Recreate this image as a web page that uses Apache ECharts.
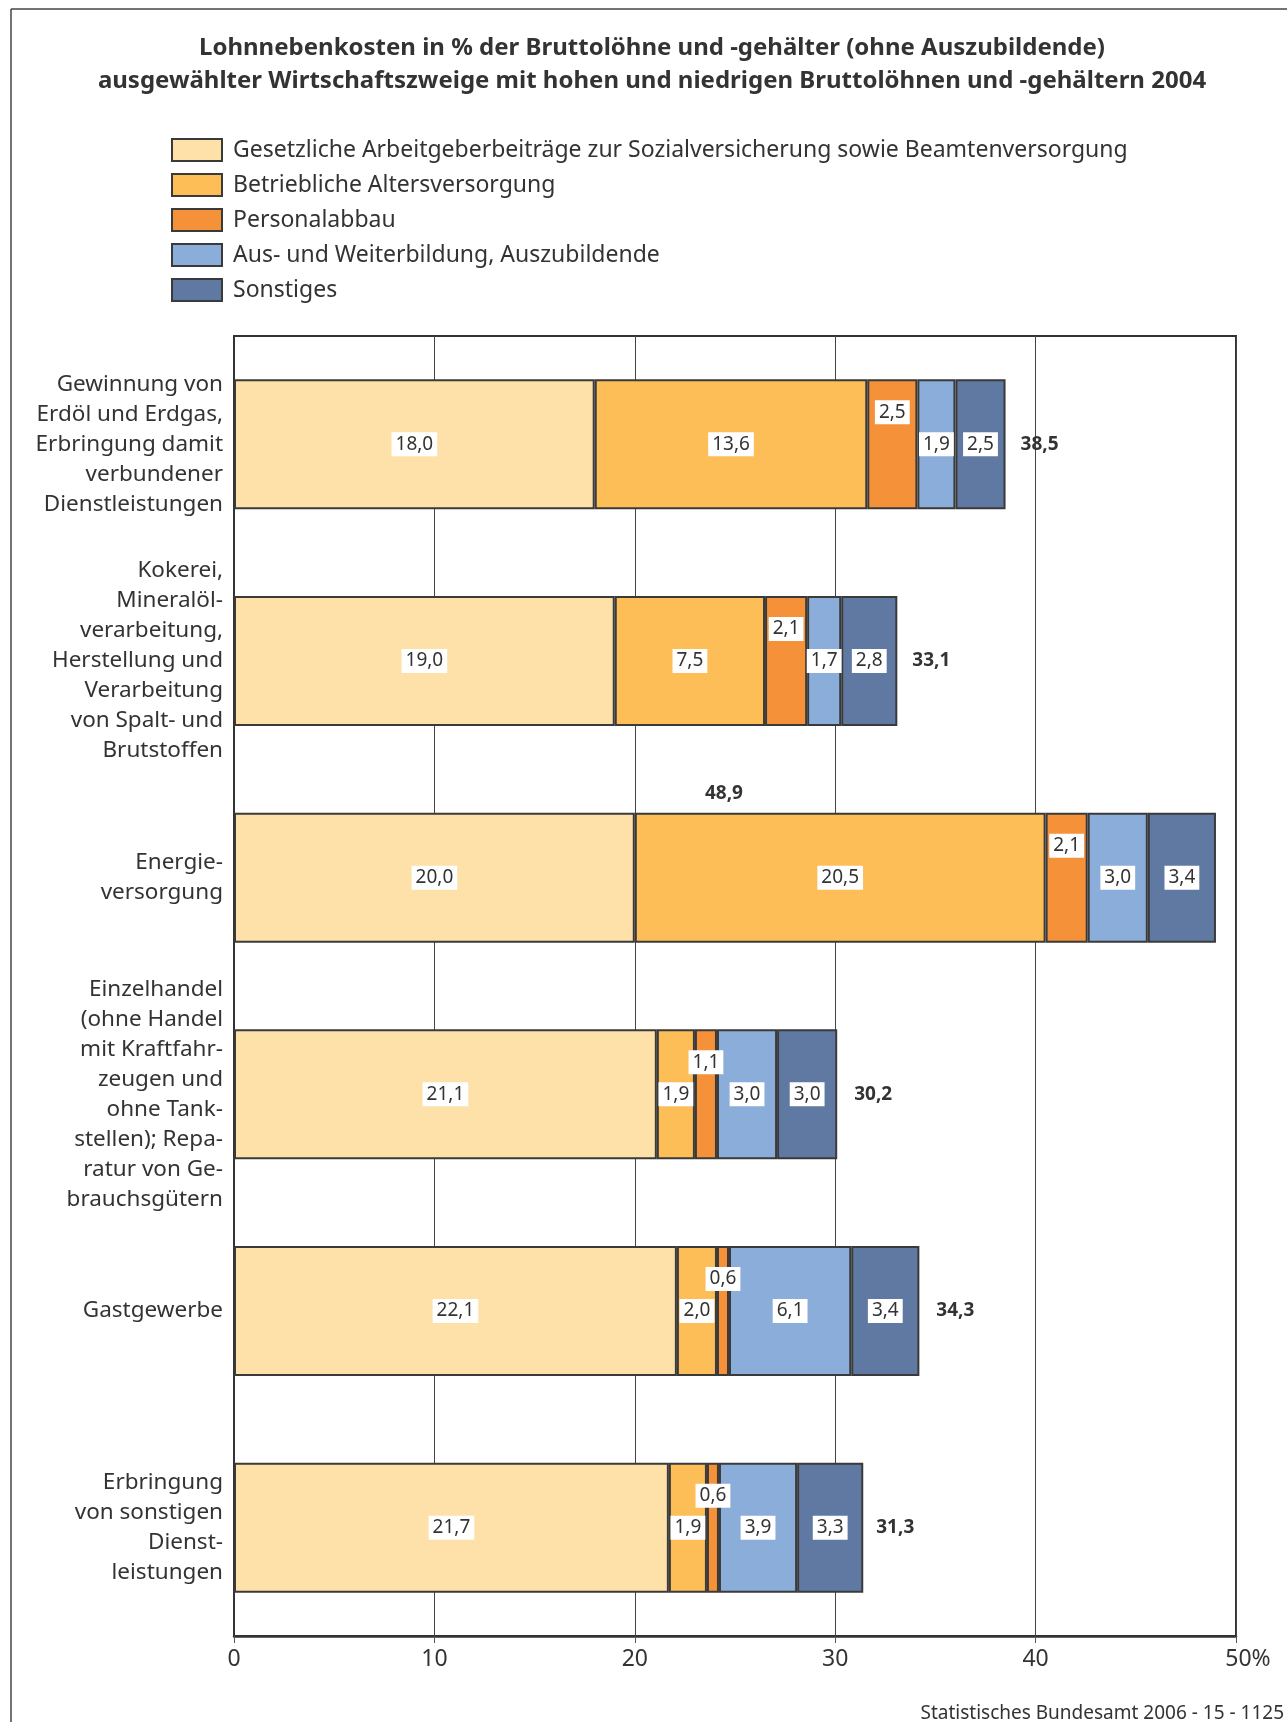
<!DOCTYPE html>
<html>
<head>
<meta charset="utf-8">
<script src="https://cdn.jsdelivr.net/npm/echarts@6/dist/echarts.min.js"></script>
<style>
  html, body { margin: 0; padding: 0; background: #ffffff; }
  #chart { width: 1287px; height: 1722px; }
</style>
</head>
<body>
<div id="chart"></div>
<script>
// Wirtschaftszweige (top to bottom)
const categories = [
  'Gewinnung von\nErdöl und Erdgas,\nErbringung damit\nverbundener\nDienstleistungen',
  'Kokerei,\nMineralöl-\nverarbeitung,\nHerstellung und\nVerarbeitung\nvon Spalt- und\nBrutstoffen',
  'Energie-\nversorgung',
  'Einzelhandel\n(ohne Handel\nmit Kraftfahr-\nzeugen und\nohne Tank-\nstellen); Repa-\nratur von Ge-\nbrauchsgütern',
  'Gastgewerbe',
  'Erbringung\nvon sonstigen\nDienst-\nleistungen'
];

const seriesNames = [
  'Gesetzliche Arbeitgeberbeiträge zur Sozialversicherung sowie Beamtenversorgung',
  'Betriebliche Altersversorgung',
  'Personalabbau',
  'Aus- und Weiterbildung, Auszubildende',
  'Sonstiges'
];

// Lohnnebenkosten in % der Bruttolöhne und -gehälter
const gesetzlich    = [18.0, 19.0, 20.0, 21.1, 22.1, 21.7];
const betrieblich   = [13.6,  7.5, 20.5,  1.9,  2.0,  1.9];
const personalabbau = [ 2.5,  2.1,  2.1,  1.1,  0.6,  0.6];
const ausbildung    = [ 1.9,  1.7,  3.0,  3.0,  6.1,  3.9];
const sonstiges     = [ 2.5,  2.8,  3.4,  3.0,  3.4,  3.3];
const totals        = [38.5, 33.1, 48.9, 30.2, 34.3, 31.3];

const xTicks = [0, 10, 20, 30, 40, 50];

const FONT = '"Noto Sans", "DejaVu Sans", sans-serif';
const TEXT = '#333333';
const EDGE = '#3a3a3a';
const colors = ['#fee0a9', '#fdbd57', '#f59138', '#8badd9', '#6079a3'];

const fmt = v => Number(v).toFixed(1).replace('.', ',');

function segment(idx, data, labelOffset) {
  return {
    name: seriesNames[idx],
    type: 'bar',
    stack: 'total',
    data: data,
    barWidth: 130,
    itemStyle: { color: colors[idx], borderColor: EDGE, borderWidth: 2 },
    label: {
      show: true,
      position: 'inside',
      offset: labelOffset || [0, 0],
      formatter: p => fmt(p.value),
      color: TEXT,
      fontFamily: FONT,
      fontSize: 19,
      backgroundColor: '#ffffff',
      padding: [3, 4, 2, 4]
    },
    emphasis: { disabled: true }
  };
}

const chart = echarts.init(document.getElementById('chart'), null, { renderer: 'canvas' });

chart.setOption({
  backgroundColor: '#ffffff',
  animation: false,
  textStyle: { fontFamily: FONT, color: TEXT },
  legend: {
    data: seriesNames,
    orient: 'vertical',
    left: 166,
    top: 133,
    itemWidth: 50,
    itemHeight: 22,
    itemGap: 11,
    icon: 'rect',
    selectedMode: false,
    textStyle: { fontFamily: FONT, fontSize: 23, lineHeight: 22, color: TEXT, padding: [0, 0, 0, 6] }
  },
  grid: {
    left: 234,
    right: 51,
    top: 336,
    bottom: 86,
    show: true,
    borderColor: '#333333',
    borderWidth: 2,
    backgroundColor: 'transparent',
    containLabel: false,
    outerBoundsMode: 'none'
  },
  xAxis: {
    type: 'value',
    min: xTicks[0],
    max: xTicks[xTicks.length - 1],
    interval: 10,
    axisLine: { show: true, lineStyle: { color: '#333333', width: 2.5 } },
    axisTick: { show: true, length: 7, lineStyle: { color: '#555555', width: 1 } },
    splitLine: { show: true, lineStyle: { color: '#444444', width: 1 } },
    axisLabel: {
      margin: 12,
      fontFamily: FONT,
      fontSize: 23,
      color: TEXT,
      formatter: v => (v === xTicks[xTicks.length - 1] ? '{p|' + v + '%}' : String(v)),
      rich: { p: { fontFamily: FONT, fontSize: 23, color: TEXT, padding: [0, 0, 0, 24] } }
    }
  },
  yAxis: {
    type: 'category',
    data: categories,
    inverse: true,
    axisLine: { show: true, lineStyle: { color: '#333333', width: 2 } },
    axisTick: { show: false },
    splitLine: { show: false },
    axisLabel: {
      margin: 11,
      fontFamily: FONT,
      fontSize: 22.5,
      lineHeight: 30,
      color: TEXT,
      align: 'right'
    }
  },
  series: [
    segment(0, gesetzlich),
    segment(1, betrieblich),
    segment(2, personalabbau, [0, -32]),
    segment(3, ausbildung),
    segment(4, sonstiges),
    {
      name: 'Summe',
      type: 'bar',
      data: totals.map((v, i) => (i === 2
        ? { value: v, label: { position: 'top', distance: 10 } }
        : v)),
      barWidth: 130,
      barGap: '-100%',
      silent: true,
      z: 3,
      itemStyle: { color: 'rgba(0,0,0,0)', borderWidth: 0 },
      label: {
        show: true,
        position: 'right',
        distance: 15,
        formatter: p => fmt(p.value),
        fontFamily: FONT,
        fontSize: 19,
        fontWeight: 'bold',
        color: TEXT
      },
      emphasis: { disabled: true }
    }
  ],
  graphic: [
    // frame lines along the top and left edge
    { type: 'line', silent: true, shape: { x1: 11, y1: 9, x2: 1287, y2: 9 },
      style: { stroke: '#444444', lineWidth: 1.5 } },
    { type: 'line', silent: true, shape: { x1: 11, y1: 9, x2: 11, y2: 1722 },
      style: { stroke: '#444444', lineWidth: 1.5 } },
    { type: 'text', silent: true, x: 652, y: 48,
      style: { text: 'Lohnnebenkosten in % der Bruttolöhne und -gehälter (ohne Auszubildende)',
        font: 'bold 24px ' + FONT, fill: TEXT, align: 'center', verticalAlign: 'middle' } },
    { type: 'text', silent: true, x: 652, y: 81,
      style: { text: 'ausgewählter Wirtschaftszweige mit hohen und niedrigen Bruttolöhnen und -gehältern 2004',
        font: 'bold 24px ' + FONT, fill: TEXT, align: 'center', verticalAlign: 'middle' } },
    { type: 'text', silent: true, x: 1284, y: 1714,
      style: { text: 'Statistisches Bundesamt 2006 - 15 - 1125',
        font: '19px ' + FONT, fill: TEXT, align: 'right', verticalAlign: 'middle' } }
  ]
});
</script>
</body>
</html>
